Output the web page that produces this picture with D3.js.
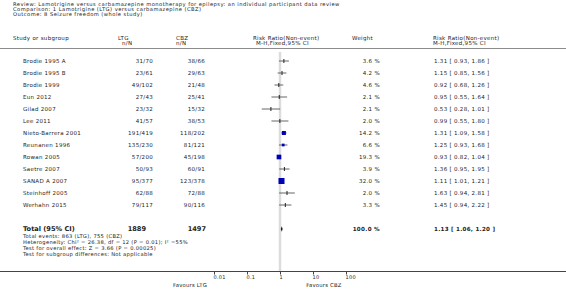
<!DOCTYPE html>
<html><head><meta charset="utf-8">
<script src="https://cdn.jsdelivr.net/npm/d3@7"></script>
<style>
html,body{margin:0;padding:0;background:#fff;}
svg{display:block;}
text{font-family:"DejaVu Sans",Verdana,sans-serif;fill:#222;}
</style></head>
<body>
<script>
const titleLines = [
  "Review:  Lamotrigine versus carbamazepine monotherapy for epilepsy: an individual participant data review",
  "Comparison:  1 Lamotrigine (LTG) versus carbamazepine (CBZ)",
  "Outcome:  8 Seizure freedom (whole study)"
];
const studies = ["Brodie 1995 A","Brodie 1995 B","Brodie 1999","Eun 2012","Gilad 2007","Lee 2011","Nieto-Barrera 2001","Reunanen 1996","Rowan 2005","Saetre 2007","SANAD A 2007","Steinhoff 2005","Werhahn 2015"];
const ltgEvents = [31,23,49,27,23,41,191,135,57,50,95,62,79];
const ltgTotal  = [70,61,102,43,32,57,419,230,200,93,377,88,117];
const cbzEvents = [38,29,21,25,15,38,118,81,45,60,123,72,90];
const cbzTotal  = [66,63,48,41,32,53,202,121,198,91,378,88,116];
const weights   = [3.6,4.2,4.6,2.1,2.1,2.0,14.2,6.6,19.3,3.9,32.0,2.0,3.3];
const rr  = [1.31,1.15,0.92,0.95,0.53,0.99,1.31,1.25,0.93,1.36,1.11,1.63,1.45];
const lo  = [0.93,0.85,0.68,0.55,0.28,0.55,1.09,0.93,0.82,0.95,1.01,0.94,0.94];
const hi  = [1.86,1.56,1.26,1.64,1.01,1.80,1.58,1.68,1.04,1.95,1.21,2.81,2.22];
const totalLabel = "Total (95% CI)";
const totalN = [1889, 1497];
const totalWeight = 100.0;
const totalRR = [1.13, 1.06, 1.20];
const footLines = [
  "Total events: 863 (LTG), 755 (CBZ)",
  "Heterogeneity: Chi\u00B2 = 26.38, df = 12 (P = 0.01); I\u00B2 =55%",
  "Test for overall effect: Z = 3.66 (P = 0.00025)",
  "Test for subgroup differences: Not applicable"
];
const tickValues = [0.01, 0.1, 1, 10, 100];
const tickLabels = ["0.01", "0.1", "1", "10", "100"];
const favours = ["Favours LTG", "Favours CBZ"];

const W = 566, H = 289;
const svg = d3.select("body").append("svg").attr("width", W).attr("height", H);
const fs = 5.5, ls = 0.3;

const x = d3.scaleLog().domain([0.01, 100]).range([214, 346]);
const y = d3.scaleLinear().domain([0, studies.length - 1]).range([61, 205]);
const yTotal = 229;
const size = d3.scaleSqrt().domain([0, 32]).range([0, 6]);
const fmt2 = d3.format(".2f");

// title
svg.append("g").selectAll("text").data(titleLines).join("text")
  .attr("x", 13).attr("y", (d, i) => 6 + i * 5)
  .attr("font-size", 5.2).attr("letter-spacing", 0.45).text(d => d);

// headers
const hdr = svg.append("g").attr("font-size", fs).attr("letter-spacing", ls);
hdr.append("text").attr("x", 13).attr("y", 39.5).text("Study or subgroup");
hdr.append("text").attr("x", 118).attr("y", 39.5).text("LTG");
hdr.append("text").attr("x", 122).attr("y", 45).text("n/N");
hdr.append("text").attr("x", 176).attr("y", 39.5).text("CBZ");
hdr.append("text").attr("x", 176).attr("y", 45).text("n/N");
hdr.append("text").attr("x", 253).attr("y", 39.5).text("Risk Ratio(Non-event)");
hdr.append("text").attr("x", 256).attr("y", 45).text("M-H,Fixed,95% CI");
hdr.append("text").attr("x", 352).attr("y", 39.5).text("Weight");
hdr.append("text").attr("x", 433).attr("y", 39.5).text("Risk Ratio(Non-event)");
hdr.append("text").attr("x", 433).attr("y", 45).text("M-H,Fixed,95% CI");

svg.append("line").attr("x1", 0).attr("x2", W).attr("y1", 48.5).attr("y2", 48.5)
  .attr("stroke", "#8c8c8c").attr("stroke-width", 1.2);

// null line
svg.append("line").attr("x1", x(1)).attr("x2", x(1)).attr("y1", 52).attr("y2", 271)
  .attr("stroke", "#dcdcdc").attr("stroke-width", 2.5);

// rows
const rows = svg.append("g").attr("font-size", fs).attr("letter-spacing", ls)
  .selectAll("g").data(studies).join("g")
  .attr("transform", (d, i) => `translate(0,${y(i)})`);
rows.append("text").attr("x", 23).attr("y", 2).text(d => d);
rows.append("text").attr("x", 153).attr("y", 2).attr("text-anchor", "end")
  .text((d, i) => `${ltgEvents[i]}/${ltgTotal[i]}`);
rows.append("text").attr("x", 205).attr("y", 2).attr("text-anchor", "end")
  .text((d, i) => `${cbzEvents[i]}/${cbzTotal[i]}`);
rows.append("text").attr("x", 380).attr("y", 2).attr("text-anchor", "end")
  .text((d, i) => `${weights[i].toFixed(1)} %`);
rows.append("text").attr("x", 434).attr("y", 2)
  .text((d, i) => `${fmt2(rr[i])} [ ${fmt2(lo[i])}, ${fmt2(hi[i])} ]`);
rows.append("line").attr("x1", (d, i) => x(lo[i])).attr("x2", (d, i) => x(hi[i]))
  .attr("y1", 0).attr("y2", 0).attr("stroke", "#555").attr("stroke-width", 0.9);
rows.each(function (d, i) {
  const g = d3.select(this);
  const s = size(weights[i]);
  if (weights[i] < 5) {
    g.append("rect").attr("x", x(rr[i]) - 0.5).attr("y", -2).attr("width", 1).attr("height", 4)
      .attr("fill", "#222");
  } else {
    g.append("rect").attr("x", x(rr[i]) - s / 2).attr("y", -s / 2).attr("width", s).attr("height", s)
      .attr("fill", "#0000b4");
  }
});

// total
const tot = svg.append("g").attr("font-weight", "bold");
tot.append("text").attr("x", 23).attr("y", yTotal + 2).attr("font-size", 6.6)
  .attr("font-family", "Liberation Sans, Arial, sans-serif").text(totalLabel);
tot.append("text").attr("x", 146).attr("y", yTotal + 2).attr("font-size", 6.6)
  .attr("font-family", "Liberation Sans, Arial, sans-serif").attr("text-anchor", "end").text(totalN[0]);
tot.append("text").attr("x", 206).attr("y", yTotal + 2).attr("font-size", 6.6)
  .attr("font-family", "Liberation Sans, Arial, sans-serif").attr("text-anchor", "end").text(totalN[1]);
tot.append("text").attr("x", 380).attr("y", yTotal + 2).attr("font-size", 5.6).attr("letter-spacing", 0.3)
  .attr("text-anchor", "end").text(`${totalWeight.toFixed(1)} %`);
tot.append("text").attr("x", 434).attr("y", yTotal + 2).attr("font-size", 5.6).attr("letter-spacing", 0.25)
  .text(`${fmt2(totalRR[0])} [ ${fmt2(totalRR[1])}, ${fmt2(totalRR[2])} ]`);
svg.append("path")
  .attr("d", `M${x(totalRR[1])},${yTotal} L${x(totalRR[0])},${yTotal - 2.8} L${x(totalRR[2])},${yTotal} L${x(totalRR[0])},${yTotal + 2.8} Z`)
  .attr("fill", "#111");

svg.append("g").selectAll("text").data(footLines).join("text")
  .attr("x", 23).attr("y", (d, i) => 237.5 + i * 6).attr("font-size", 5.2)
  .attr("letter-spacing", 0.3).text(d => d);

// axis
svg.append("line").attr("x1", 0).attr("x2", W).attr("y1", 271.5).attr("y2", 271.5)
  .attr("stroke", "#444").attr("stroke-width", 1);
const ax = svg.append("g").attr("transform", "translate(0,271.5)")
  .call(d3.axisBottom(x).tickValues(tickValues).tickFormat((d, i) => tickLabels[i]).tickSize(3).tickPadding(1));
ax.select(".domain").remove();
ax.selectAll("line").attr("stroke", "#444");
ax.selectAll("text").attr("font-size", 5).attr("font-family", "DejaVu Sans").attr("fill", "#222")
  .attr("text-anchor", "start").attr("x", -1).attr("letter-spacing", 0.3);
svg.append("text").attr("x", 190).attr("y", 287).attr("font-size", 5.3).attr("letter-spacing", 0.2)
  .attr("text-anchor", "middle").text(favours[0]);
svg.append("text").attr("x", 324).attr("y", 287).attr("font-size", 5.3).attr("letter-spacing", 0.2)
  .attr("text-anchor", "middle").text(favours[1]);
</script>
</body></html>
